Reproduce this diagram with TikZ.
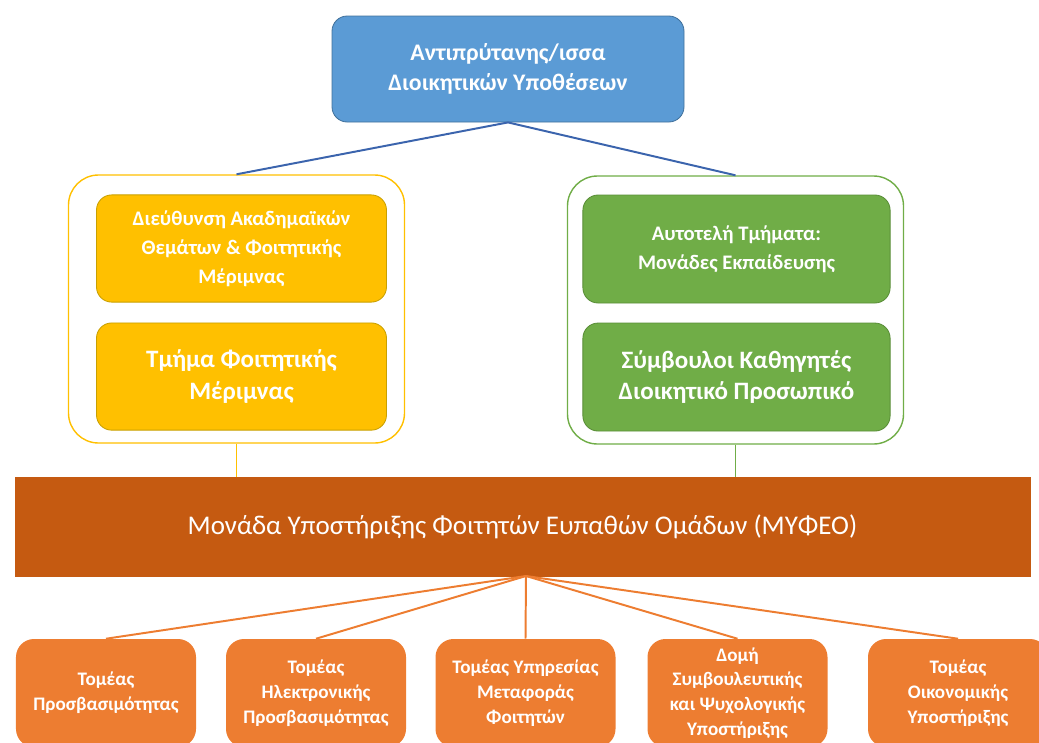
\documentclass[tikz,border=0pt]{standalone}
\usepackage{fontspec}
\setmainfont{Carlito}
\usetikzlibrary{positioning}

\definecolor{topblue}{HTML}{5B9BD5}
\definecolor{topblueline}{HTML}{41719C}
\definecolor{linkblue}{HTML}{3B64AD}
\definecolor{gold}{HTML}{FFC000}
\definecolor{goldline}{HTML}{C9A000}
\definecolor{leaf}{HTML}{70AD47}
\definecolor{leafline}{HTML}{5A8E38}
\definecolor{rust}{HTML}{C55A11}
\definecolor{carrot}{HTML}{ED7D31}

\begin{document}
\begin{tikzpicture}[
        box/.style = {rounded corners=0.38cm, align=center, text=white, font=\bfseries},
        rector/.style = {box, fill=topblue, draw=topblueline, line width=0.6pt,
            minimum width=8.8cm, minimum height=2.65cm,
            font=\bfseries\fontsize{16.9}{21.3}\selectfont},
        group/.style = {draw, rounded corners=0.75cm, fill=white, line width=1pt,
            minimum width=8.4cm, minimum height=6.7cm},
        small/.style = {font=\bfseries\fontsize{14.7}{20.6}\selectfont},
        large/.style = {font=\bfseries\fontsize{17.8}{22.4}\selectfont},
        yellowbox/.style = {box, fill=gold, draw=goldline, line width=0.6pt,
            minimum width=7.25cm, minimum height=2.68cm},
        greenbox/.style = {box, fill=leaf, draw=leafline, line width=0.6pt,
            minimum width=7.68cm, minimum height=2.7cm},
        sector/.style = {box, fill=carrot, rounded corners=0.45cm,
            minimum width=4.5cm, minimum height=2.7cm,
            font=\bfseries\fontsize{13.6}{17.6}\selectfont},
        link/.style = {line width=1.4pt}
    ]
        \clip (0,0) rectangle (25.975,-18.55);

        %Knoten
        \node[rector] (vr) at (12.7,-1.725) {Αντιπρύτανης/ισσα\\Διοικητικών Υποθέσεων};

        \node[group, draw=gold] (lgrp) at (5.9125,-7.725) {};
        \node[group, draw=leaf] (rgrp) at (18.3875,-7.75) {};

        \node[yellowbox, small] (dir) at (6.0375,-6.2125) {Διεύθυνση Ακαδημαϊκών\\Θεμάτων \& Φοιτητικής\\Μέριμνας};
        \node[yellowbox, large] (care) [below = 0.5cm of dir] {Τμήμα Φοιτητικής\\Μέριμνας};

        \node[greenbox, small] (units) at (18.4125,-6.225) {Αυτοτελή Τμήματα:\\Μονάδες Εκπαίδευσης};
        \node[greenbox, large] (staff) [below = 0.48cm of units] {Σύμβουλοι Καθηγητές\\Διοικητικό Προσωπικό};

        \node[fill=rust, draw=rust, minimum width=25.375cm, minimum height=2.475cm,
            text=white, font=\fontsize{19.2}{23}\selectfont] (myfeo) at (13.0625,-13.1625)
            {Μονάδα Υποστήριξης Φοιτητών Ευπαθών Ομάδων (ΜΥΦΕΟ)};

        \coordinate (fan) at (13.15,-14.4);

        \node[sector] (s1) at (2.65,-17.325) {Τομέας\\Προσβασιμότητας};
        \node[sector] (s2) at (7.9,-17.325) {Τομέας\\Ηλεκτρονικής\\Προσβασιμότητας};
        \node[sector] (s3) at (13.1375,-17.325) {Τομέας Υπηρεσίας\\Μεταφοράς\\Φοιτητών};
        \node[sector] (s4) at (18.4375,-17.325) {Δομή\\Συμβουλευτικής\\και Ψυχολογικής\\Υποστήριξης};
        \node[sector] (s5) at (23.95,-17.325) {Τομέας\\Οικονομικής\\Υποστήριξης};

        %Kanten
        \draw[link, linkblue] (vr.south) -- (lgrp.north);
        \draw[link, linkblue] (vr.south) -- (rgrp.north);

        \draw[link, gold] (lgrp.south) -- (lgrp.south |- myfeo.north);
        \draw[link, leaf] (rgrp.south) -- (rgrp.south |- myfeo.north);

        \foreach \s in {s1,s2,s3,s4,s5}
            \draw[link, carrot] (fan) -- (\s.north);

    \end{tikzpicture}
\end{document}
